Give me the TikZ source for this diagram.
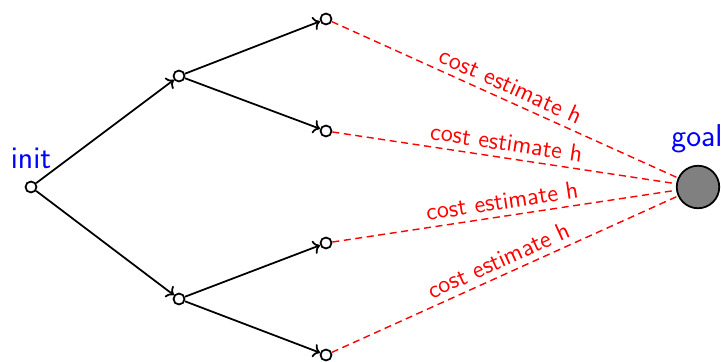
\documentclass[tikz,border=0pt]{standalone}
\usetikzlibrary{arrows.meta}
\begin{document}
\begin{tikzpicture}[x=0.02cm,y=-0.02cm,
  state/.style={circle,draw=black,fill=white,line width=1pt,inner sep=0pt,minimum size=0.22cm},
  goalnode/.style={circle,draw=black,fill=black!50,line width=1pt,inner sep=0pt,minimum size=0.85cm},
  edge/.style={->,line width=1pt,black},
  est/.style={red,line width=0.8pt,dash pattern=on 4pt off 2.6pt},
  estlabel/.style={font=\sffamily\fontsize{14}{16}\selectfont,text=red,sloped,above,midway,inner sep=3.5pt},
  bigl/.style={font=\sffamily\fontsize{18}{20}\selectfont,text=blue}]
\useasboundingbox (0,0) rectangle (721,362);
\node[state] (i) at (31,187) {};
\node[state] (a) at (179,76) {};
\node[state] (b) at (179,299) {};
\node[state] (a1) at (326,19) {};
\node[state] (a2) at (326,131) {};
\node[state] (b1) at (326,243) {};
\node[state] (b2) at (326,355) {};
\node[goalnode] (g) at (698,187) {};
\node[bigl,anchor=south] (il) at (31,175) {init};
\node[bigl,anchor=south] (gl) at (697,159) {goal};
\draw[edge] (i) -- (a);
\draw[edge] (i) -- (b);
\draw[edge] (a) -- (a1);
\draw[edge] (a) -- (a2);
\draw[edge] (b) -- (b1);
\draw[edge] (b) -- (b2);
\draw[est] (a1) -- node[estlabel] (l1) {cost estimate h} (g);
\draw[est] (a2) -- node[estlabel] (l2) {cost estimate h} (g);
\draw[est] (b1) -- node[estlabel] (l3) {cost estimate h} (g);
\draw[est] (b2) -- node[estlabel] (l4) {cost estimate h} (g);
\end{tikzpicture}
\end{document}
